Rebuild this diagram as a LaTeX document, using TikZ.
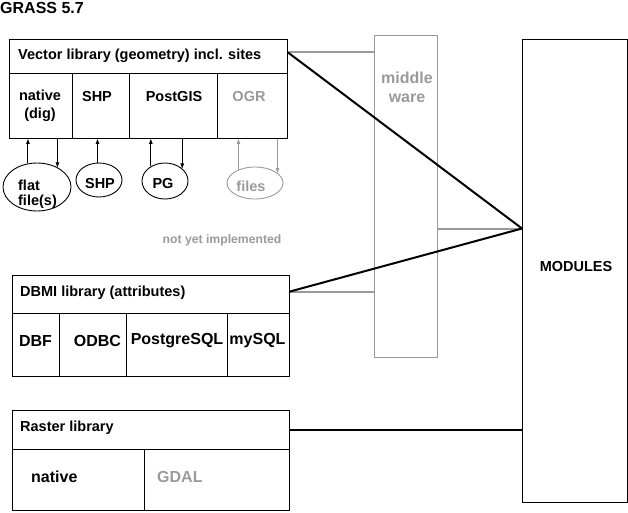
\documentclass[tikz,border=0pt]{standalone}
\usepackage{fontspec}
\setmainfont{Liberation Sans}
\usetikzlibrary{shapes.geometric,arrows.meta,calc}
\definecolor{lgrey}{HTML}{9A9A9A}
\begin{document}
\begin{tikzpicture}[x=1pt,y=-1pt,
  box/.style={draw=black,line width=1pt,rectangle,inner sep=0pt,anchor=north west},
  ell/.style={draw=black,ellipse,line width=0.9pt,inner sep=0pt},
  arr/.style={-{Triangle[length=5pt,width=3.5pt]},line width=0.9pt},
  gline/.style={draw=lgrey,line width=2pt},
  bline/.style={draw=black,line width=2pt},
  tA/.style={font=\fontsize{14.5}{18}\selectfont\bfseries,inner sep=0pt},
  tB/.style={font=\fontsize{16}{19}\selectfont\bfseries,inner sep=0pt},
  tC/.style={font=\fontsize{12.2}{14}\selectfont\bfseries,inner sep=0pt},
  grey/.style={text=lgrey}
]
\useasboundingbox (0,0) rectangle (628,513);

% title
\node[tB,anchor=west] (title) at (0,8) {GRASS 5.7};

% vector library
\node[box,minimum width=278pt,minimum height=34pt] (vhead) at (9,39) {};
\node[box,minimum width=63pt,minimum height=65pt] (vnat) at (9,73) {};
\node[box,minimum width=57pt,minimum height=65pt] (vshp) at (72,73) {};
\node[box,minimum width=88pt,minimum height=65pt] (vpg) at (129,73) {};
\node[box,minimum width=70pt,minimum height=65pt] (vogr) at (217,73) {};
\node[tA,anchor=west] (vht) at (18,56) {Vector library (geometry) incl. sites};
\node[tA,align=center] (vnatt) at (40,106) {native\\(dig)};
\node[tA] (vshpt) at (97,97) {SHP};
\node[tA] (vpgt) at (174,97) {PostGIS};
\node[tA,grey] (vogrt) at (249,97) {OGR};

% storage ellipses
\node[ell,minimum width=68pt,minimum height=48pt] (flat) at (37,187) {};
\node[ell,minimum width=46pt,minimum height=34pt] (eshp) at (99,180) {};
\node[ell,minimum width=46pt,minimum height=36pt] (epg) at (165,181) {};
\node[ell,draw=lgrey,minimum width=56pt,minimum height=32pt] (efiles) at (255,183) {};
\node[tA,align=left,font=\fontsize{14.5}{15}\selectfont\bfseries] (flatt) at (37.5,194) {flat\\file(s)};
\node[tA] (eshpt) at (100,183.5) {SHP};
\node[tA] (epgt) at (163,183.5) {PG};
\node[tA,grey] (efilest) at (251,186) {files};
\node[tC,grey] (nyi) at (222,240) {not yet implemented};

% arrows between formats and storage
\draw[arr] (flat.111) -- (flat.111 |- vnat.south);
\draw[arr] (flat.44 |- vnat.south) -- (flat.44);
\draw[arr] (eshp.95) -- (eshp.95 |- vshp.south);
\draw[arr] (epg.134) -- (epg.134 |- vpg.south);
\draw[arr] (epg.36 |- vpg.south) -- (epg.36);
\draw[arr,draw=lgrey,fill=lgrey] (efiles.141) -- (efiles.141 |- vogr.south);
\draw[arr,draw=lgrey,fill=lgrey] (efiles.24 |- vogr.south) -- (efiles.24);

% DBMI library
\node[box,minimum width=277pt,minimum height=38pt] (dhead) at (12,275) {};
\node[box,minimum width=47pt,minimum height=63pt] (ddbf) at (12,313) {};
\node[box,minimum width=67pt,minimum height=63pt] (dodbc) at (59,313) {};
\node[box,minimum width=101pt,minimum height=63pt] (dpg) at (126,313) {};
\node[box,minimum width=62pt,minimum height=63pt] (dmy) at (227,313) {};
\node[tA,anchor=west] (dht) at (20,293) {DBMI library (attributes)};
\node[tB] (ddbft) at (35.5,341) {DBF};
\node[tB] (dodbct) at (97.5,341) {ODBC};
\node[tB] (dpgt) at (177,341) {PostgreSQL};
\node[tB] (dmyt) at (257.5,341) {mySQL};

% Raster library
\node[box,minimum width=277pt,minimum height=39pt] (rhead) at (12,410) {};
\node[box,minimum width=132pt,minimum height=61pt] (rnat) at (12,449) {};
\node[box,minimum width=145pt,minimum height=61pt] (rgdal) at (144,449) {};
\node[tA,anchor=west] (rht) at (20,428) {Raster library};
\node[tB,anchor=west] (rnatt) at (31,477) {native};
\node[tB,anchor=west,grey] (rgdalt) at (157,477) {GDAL};

% middleware
\node[box,draw=lgrey,minimum width=63pt,minimum height=322pt] (mw) at (374,35) {};
\node[tB,grey,align=center] (mwt) at (407,87) {middle\\ware};

% modules
\node[box,minimum width=105pt,minimum height=463pt] (mod) at (522,39) {};
\node[tA] (modt) at (576,267) {MODULES};

% connectors
\coordinate (vA) at ([yshift=4pt]vhead.east);
\coordinate (dA) at ([yshift=3pt]dhead.east);
\coordinate (mj) at ([yshift=42.5pt]mod.west);
\draw[gline] (vA) -- (vA -| mw.west);
\draw[gline] (dA) -- (dA -| mw.west);
\draw[gline] (mj -| mw.east) -- (mj);
\draw[bline] (vA) -- (mj);
\draw[bline] (dA) -- (mj);
\draw[bline] (rhead.east) -- (rhead.east -| mod.west);
\end{tikzpicture}
\end{document}
